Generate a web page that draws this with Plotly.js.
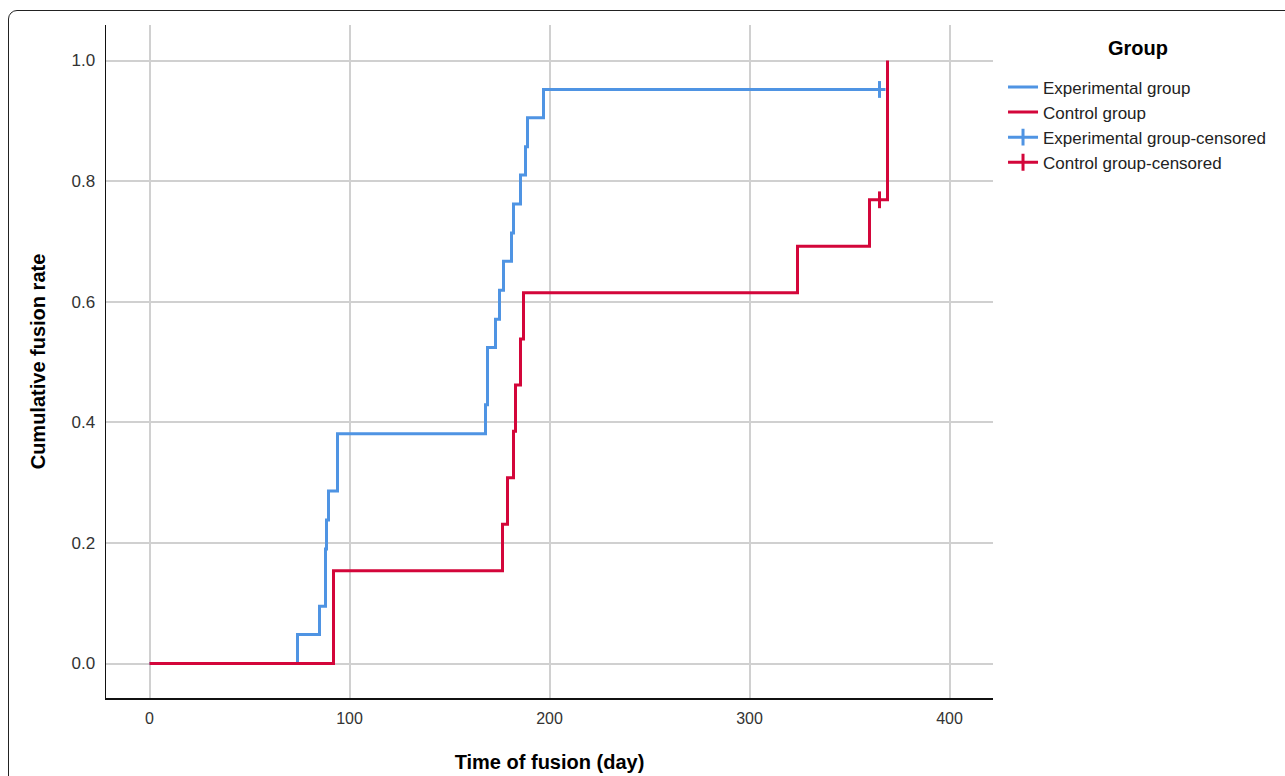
<!DOCTYPE html>
<html>
<head>
<meta charset="utf-8">
<script src="https://cdn.plot.ly/plotly-3.0.1.min.js"></script>
<style>
  html, body { margin: 0; padding: 0; background: #fff; }
  #frame { position: absolute; left: 8px; top: 10px; width: 1400px; height: 900px;
           border: 1px solid #222; border-radius: 9px; box-sizing: border-box; }
  #chart { position: absolute; left: 0; top: 0; width: 1285px; height: 776px; }
</style>
</head>
<body>
<div id="frame"></div>
<div id="chart"></div>
<script>
// Experimental group (event times in days, cumulative fusion rate)
var expTimes  = [0, 74, 85, 88, 88.5, 89.5, 94, 168, 169, 173, 175, 177, 181, 182, 185.5, 188, 189, 197, 368];
var expValues = [0, 0.048, 0.095, 0.190, 0.238, 0.286, 0.381, 0.429, 0.524, 0.571, 0.619, 0.667, 0.714, 0.762, 0.810, 0.857, 0.905, 0.952, 0.952];
// Control group
var ctlTimes  = [0, 92, 176.5, 179, 182, 183, 185.5, 187, 324, 360, 369];
var ctlValues = [0, 0.154, 0.231, 0.308, 0.385, 0.462, 0.538, 0.615, 0.692, 0.769, 1.0];
// Censored observations
var expCensTimes = [365];
var expCensValues = [0.952];
var ctlCensTimes = [365];
var ctlCensValues = [0.769];

var xTicks = [0, 100, 200, 300, 400];
var yTicks = [0.0, 0.2, 0.4, 0.6, 0.8, 1.0];

var BLUE = '#4f94e3';
var RED = '#d3063a';
var FONT = '"Liberation Sans", Arial, sans-serif';

var traces = [
  { x: expTimes, y: expValues, type: 'scatter', mode: 'lines', name: 'Experimental group',
    line: { color: BLUE, width: 3, shape: 'hv' } },
  { x: ctlTimes, y: ctlValues, type: 'scatter', mode: 'lines', name: 'Control group',
    line: { color: RED, width: 3, shape: 'hv' } },
  { x: expCensTimes, y: expCensValues, type: 'scatter', mode: 'lines+markers', name: 'Experimental group-censored',
    line: { color: BLUE, width: 3 },
    marker: { symbol: 'line-ns', size: 12, color: BLUE, line: { color: BLUE, width: 3 } } },
  { x: ctlCensTimes, y: ctlCensValues, type: 'scatter', mode: 'lines+markers', name: 'Control group-censored',
    line: { color: RED, width: 3 },
    marker: { symbol: 'line-ns', size: 12, color: RED, line: { color: RED, width: 3 } } }
];

var layout = {
  width: 1285, height: 776,
  paper_bgcolor: 'rgba(0,0,0,0)', plot_bgcolor: 'rgba(0,0,0,0)',
  margin: { l: 106, r: 292, t: 25, b: 78 },
  font: { family: FONT, color: '#333' },
  showlegend: true,
  xaxis: {
    range: [-21.75, 421.75], tickvals: xTicks, ticktext: xTicks.map(String),
    showgrid: true, gridcolor: '#d0d0d0', gridwidth: 2, zeroline: false,
    showline: true, linecolor: '#111', linewidth: 1.5, ticks: '',
    ticklabelstandoff: 5,
    tickfont: { size: 16, color: '#333', family: FONT },
    title: { text: '<b>Time of fusion (day)</b>', font: { size: 20, color: '#000', family: FONT }, standoff: 29 },
    automargin: false
  },
  yaxis: {
    range: [-0.0572, 1.0589], tickvals: yTicks, ticktext: yTicks.map(function(v){ return v.toFixed(1); }),
    showgrid: true, gridcolor: '#d0d0d0', gridwidth: 2, zeroline: false,
    showline: true, linecolor: '#111', linewidth: 1.5, ticks: '',
    ticklabelstandoff: 6,
    tickfont: { size: 17, color: '#333', family: FONT },
    title: { text: '<b>Cumulative fusion rate</b>', font: { size: 20, color: '#000', family: FONT }, standoff: 20 },
    automargin: false
  },
  legend: {
    x: 1.0113, xanchor: 'left', y: 0.934, yanchor: 'top',
    bgcolor: 'rgba(0,0,0,0)',
    font: { size: 17, color: '#222', family: FONT },
    itemwidth: 30
  },
  annotations: [{
    text: '<b>Group</b>', xref: 'paper', yref: 'paper', x: 1.1635, y: 0.9658,
    xanchor: 'center', yanchor: 'middle', showarrow: false,
    font: { size: 20, color: '#000', family: FONT }
  }]
};

Plotly.newPlot('chart', traces, layout, { displayModeBar: false, staticPlot: true });
</script>
</body>
</html>
